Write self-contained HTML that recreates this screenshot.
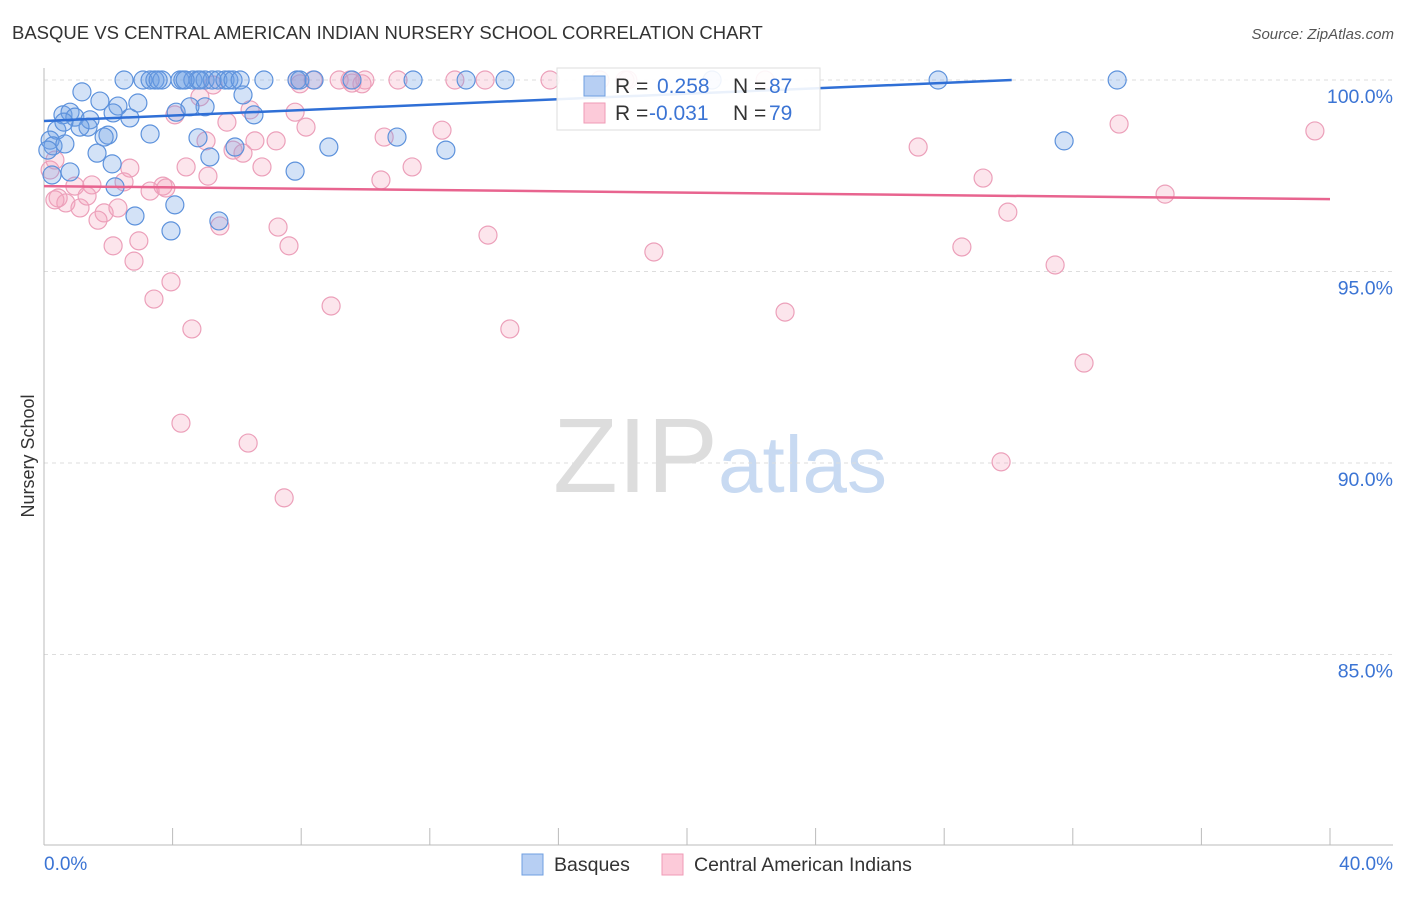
<!DOCTYPE html>
<html><head><meta charset="utf-8"><style>
body{margin:0;background:#fff;font-family:"Liberation Sans",sans-serif;}
svg text{font-family:"Liberation Sans",sans-serif;}
</style></head><body>
<svg id="chart" width="1406" height="892">
<text x="12" y="39" font-size="18.5" fill="#333">BASQUE VS CENTRAL AMERICAN INDIAN NURSERY SCHOOL CORRELATION CHART</text>
<text x="1394" y="39" font-size="15" fill="#555" font-style="italic" text-anchor="end">Source: ZipAtlas.com</text>
<text x="34" y="456" font-size="18" fill="#333" text-anchor="middle" transform="rotate(-90 34 456)">Nursery School</text>
<g><text x="553" y="492" font-size="106" fill="#ddd" font-family="Liberation Serif,serif">ZIP</text><text x="718" y="492" font-size="80" fill="#c8daf2">atlas</text></g>
<g id="grid"></g><g id="axes"></g><g id="pts"></g><g id="trend"></g>
<g>
<rect x="557" y="68" width="263" height="62" fill="#fff" fill-opacity="0.9" stroke="#ddd"/>
<rect x="584" y="76" width="21" height="20" fill="#b7cff3" stroke="#6f9fe0"/>
<text x="615" y="93" font-size="21" fill="#333">R = </text><text x="657" y="93" font-size="21" fill="#3b74d4">0.258</text>
<text x="733" y="93" font-size="21" fill="#333">N = </text><text x="769" y="93" font-size="21" fill="#3b74d4">87</text>
<rect x="584" y="103" width="21" height="20" fill="#fccad9" stroke="#ef9bb6"/>
<text x="615" y="120" font-size="21" fill="#333">R = </text><text x="649" y="120" font-size="21" fill="#3b74d4">-0.031</text>
<text x="733" y="120" font-size="21" fill="#333">N = </text><text x="769" y="120" font-size="21" fill="#3b74d4">79</text>
</g>
<g>
<rect x="522" y="854" width="21" height="21" fill="#b7cff3" stroke="#6f9fe0"/>
<text x="554" y="871" font-size="19.5" fill="#333">Basques</text>
<rect x="662" y="854" width="21" height="21" fill="#fccad9" stroke="#ef9bb6"/>
<text x="694" y="871" font-size="19.5" fill="#333">Central American Indians</text>
</g>
</svg>
<script>
const blueX=[2.49,3.08,3.30,3.45,3.67,4.23,4.32,4.63,4.79,5.01,5.23,5.41,5.63,5.75,5.88,6.10,6.84,7.87,7.96,8.40,9.58,11.48,13.13,14.34,20.78,27.81,33.38,4.85,4.39,3.55,
1.18,6.19,2.92,1.74,2.30,5.01,4.11,4.54,6.53,2.67,0.59,0.81,0.96,1.43,1.37,1.12,0.40,0.62,0.19,0.28,0.65,1.99,1.87,3.30,4.79,5.94,8.86,10.98,12.50,1.65,2.12,5.16,0.81,7.81,2.21,4.07,2.83,5.44,3.95,0.12,0.25,2.15,31.73];
const blueY=[100,100,100,100,100,100,100,100,100,100,100,100,100,100,100,100,100,100,100,100,100,100,100,100,100,100,100,100,100,100,
99.69,99.61,99.40,99.45,99.32,99.30,99.16,99.30,99.09,99.01,99.09,99.16,99.03,98.96,98.77,98.77,98.69,98.90,98.43,98.28,98.33,98.56,98.51,98.59,98.49,98.25,98.25,98.51,98.17,98.09,97.81,97.99,97.60,97.62,97.21,96.74,96.45,96.32,96.06,98.17,97.52,99.14,98.41];
const pinkX=[9.52,9.18,9.98,11.01,12.78,13.72,15.74,17.29,18.07,18.16,22.43,8.37,7.87,
7.96,9.58,9.89,5.26,4.85,6.41,7.81,4.07,5.69,8.15,10.58,12.38,7.22,6.56,5.04,5.88,6.19,11.45,6.78,4.42,2.67,10.48,5.10,0.96,1.49,2.49,3.30,3.70,3.79,0.44,0.68,1.12,1.34,1.87,2.30,1.68,5.47,7.28,13.81,2.15,2.95,7.62,2.80,18.97,3.42,3.95,8.93,14.49,4.60,23.05,4.26,6.35,7.47,27.19,29.21,29.98,28.55,31.45,32.35,29.77,33.44,34.87,39.53,0.19,0.34,0.34];
const pinkY=[100,100,100,100,100,100,100,100,100,100,100,100,100,
99.90,99.92,99.90,99.87,99.56,99.22,99.16,99.09,98.90,98.77,98.51,98.69,98.41,98.41,98.41,98.17,98.09,97.73,97.73,97.73,97.70,97.39,97.49,97.23,97.26,97.34,97.10,97.23,97.18,96.92,96.79,96.66,96.97,96.53,96.66,96.34,96.19,96.16,95.95,95.67,95.80,95.67,95.27,95.51,94.28,94.73,94.10,93.50,93.50,93.94,91.04,90.52,89.09,98.25,97.44,96.55,95.64,95.17,92.61,90.03,98.85,97.02,98.67,97.65,97.91,96.87];
const yTicks=[100,95,90,85];
const yTickLabels=["100.0%","95.0%","90.0%","85.0%"];
const xTicks=[0,4,8,12,16,20,24,28,32,36,40];
const blueTrend=[0,98.93,30.1,100];
const pinkTrend=[0,97.23,40,96.89];
const NS="http://www.w3.org/2000/svg";
const sx=v=>44+v*32.15, sy=v=>80+(100-v)*38.3;
function mk(p,t,a){const e=document.createElementNS(NS,t);for(const k in a)e.setAttribute(k,a[k]);document.getElementById(p).appendChild(e);return e;}
yTicks.forEach((t,i)=>{
 const l=mk('grid','line',{x1:44,x2:1393,y1:sy(t),y2:sy(t),stroke:'#ddd','stroke-dasharray':'4,4'});
 
 
 const tx=mk('grid','text',{x:1393,y:sy(t)+23,'font-size':19.5,fill:'#3b74d4','text-anchor':'end'});tx.textContent=yTickLabels[i];
 
 
});
mk('axes','line',{x1:44,x2:44,y1:68,y2:845,stroke:'#bbb'});
mk('axes','line',{x1:44,x2:1393,y1:845,y2:845,stroke:'#bbb'});
xTicks.forEach(t=>{const l=mk('axes','line',{x1:sx(t),x2:sx(t),y1:828,y2:845,stroke:'#bbb'});
 
 });
let a=mk('axes','text',{x:44,y:870,'font-size':19,fill:'#3b74d4'});a.textContent='0.0%';


a=mk('axes','text',{x:1393,y:870,'font-size':19,fill:'#3b74d4','text-anchor':'end'});a.textContent='40.0%';


pinkX.forEach((x,i)=>{const c=mk('pts','circle',{cx:sx(x),cy:sy(pinkY[i]),r:9,fill:'rgba(244,160,188,0.28)',stroke:'#eca0ba','stroke-width':1.2});
 
 });
blueX.forEach((x,i)=>{const c=mk('pts','circle',{cx:sx(x),cy:sy(blueY[i]),r:9,fill:'rgba(110,160,230,0.3)',stroke:'#5d92dc','stroke-width':1.2});
 
 });
let t=mk('trend','line',{x1:sx(blueTrend[0]),y1:sy(blueTrend[1]),x2:sx(blueTrend[2]),y2:sy(blueTrend[3]),stroke:'#2f6fd6','stroke-width':2.5});


t=mk('trend','line',{x1:sx(pinkTrend[0]),y1:sy(pinkTrend[1]),x2:sx(pinkTrend[2]),y2:sy(pinkTrend[3]),stroke:'#e8648f','stroke-width':2.5});


</script>
</body></html>
